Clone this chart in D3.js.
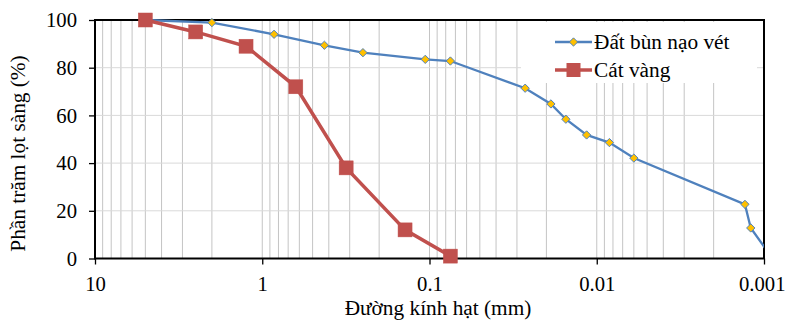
<!DOCTYPE html>
<html>
<head>
<meta charset="utf-8">
<script src="https://cdn.jsdelivr.net/npm/d3@7"></script>
<style>
  html, body { margin: 0; padding: 0; background: #fff; }
  svg { display: block; }
  svg text { font-family: "Times New Roman", Tinos, serif; }
</style>
</head>
<body>
<svg id="chart" width="786" height="323"></svg>
<script>
// Grain size distribution curves (percent passing vs particle diameter)
const seriesNames = ["Đất bùn nạo vét", "Cát vàng"];

// Dredged mud
const mudDiameter = [5, 2, 0.85, 0.425, 0.25, 0.106, 0.075, 0.0268, 0.0188, 0.0153, 0.0115, 0.0084, 0.006, 0.0013, 0.0012, 0.0009];
const mudPassing  = [100, 98.9, 94, 89.4, 86.3, 83.5, 82.8, 71.4, 64.8, 58.4, 51.8, 48.6, 42.1, 22.7, 12.8, 0.5];

// Yellow sand
const sandDiameter = [5, 2.5, 1.25, 0.63, 0.315, 0.14, 0.075];
const sandPassing  = [100, 95, 89, 72, 38, 12, 1];

const xTickValues = [10, 1, 0.1, 0.01, 0.001];
const xTickLabels = ["10", "1", "0.1", "0.01", "0.001"];
const yTickValues = [0, 20, 40, 60, 80, 100];

const xTitle = "Đường kính hạt (mm)";
const yTitle = "Phần trăm lọt sàng (%)";

const svg = d3.select("#chart");
const plot = { left: 95, right: 764, top: 20, bottom: 258.5 };
const tickFont = 20.7, textFont = 21.3;

const x = d3.scaleLog().domain([10, 0.001]).range([plot.left, plot.right]);
const y = d3.scaleLinear().domain([0, 100]).range([plot.bottom, plot.top]);

// minor vertical gridlines: 2..9 within each decade
const minorX = [];
[10, 1, 0.1, 0.01].forEach(dec => {
  for (let k = 2; k <= 9; k++) minorX.push(dec * k / 10);
});
svg.append("g").selectAll("line").data(minorX.concat([1, 0.1, 0.01])).join("line")
  .attr("x1", d => x(d)).attr("x2", d => x(d))
  .attr("y1", plot.top).attr("y2", plot.bottom)
  .attr("stroke", "#c4c4c4").attr("stroke-width", 1);

// horizontal gridlines
svg.append("g").selectAll("line").data([20, 40, 60, 80]).join("line")
  .attr("x1", plot.left).attr("x2", plot.right)
  .attr("y1", d => y(d)).attr("y2", d => y(d))
  .attr("stroke", "#d9d9d9").attr("stroke-width", 1);

// legend background
svg.append("rect").attr("x", 521).attr("y", 22).attr("width", 236).attr("height", 61).attr("fill", "#fff");

// axes
const xAxis = d3.axisBottom(x).tickValues(xTickValues)
  .tickFormat((d, i) => xTickLabels[i]).tickSize(6).tickSizeOuter(0);
const gx = svg.append("g").attr("transform", `translate(0,${plot.bottom})`).call(xAxis)
  .attr("font-family", null);
gx.select(".domain").remove();
gx.selectAll(".tick line").attr("stroke", "#000").attr("stroke-width", 1.3);
gx.selectAll(".tick text").attr("fill", "#000").attr("font-size", tickFont)
  .attr("y", 32.5).attr("dy", null);
// keep the last label inside the page edge
gx.selectAll(".tick text").filter((d, i, n) => i === n.length - 1)
  .attr("text-anchor", "end").attr("x", 21);

const yAxis = d3.axisLeft(y).tickValues(yTickValues).tickSize(6).tickPadding(12).tickSizeOuter(0);
const gy = svg.append("g").attr("transform", `translate(${plot.left},0)`).call(yAxis)
  .attr("font-family", null);
gy.select(".domain").remove();
gy.selectAll(".tick line").attr("stroke", "#000").attr("stroke-width", 1.3);
gy.selectAll(".tick text").attr("fill", "#000").attr("font-size", tickFont);

// plot frame
svg.append("rect").attr("x", plot.left).attr("y", plot.top)
  .attr("width", plot.right - plot.left).attr("height", plot.bottom - plot.top)
  .attr("fill", "none").attr("stroke", "#000").attr("stroke-width", 2);

// clip series horizontally at the plot edges
svg.append("clipPath").attr("id", "clipX").append("rect")
  .attr("x", 0).attr("y", 0).attr("width", plot.right).attr("height", 323);

const line = d3.line().x(d => x(d[0])).y(d => y(d[1]));
const mud = mudDiameter.map((d, i) => [d, mudPassing[i]]);
const sand = sandDiameter.map((d, i) => [d, sandPassing[i]]);

const series = svg.append("g").attr("clip-path", "url(#clipX)");

// mud curve
series.append("path").datum(mud).attr("d", line)
  .attr("fill", "none").attr("stroke", "#4f81bd").attr("stroke-width", 2.3);
const diamond = d3.symbol().type(d3.symbolDiamond2).size(44);
series.append("g").selectAll("path").data(mud).join("path")
  .attr("d", diamond)
  .attr("transform", d => `translate(${x(d[0])},${y(d[1])})`)
  .attr("fill", "#ffc000").attr("stroke", "#4f81bd").attr("stroke-width", 1);

// sand curve
series.append("path").datum(sand).attr("d", line)
  .attr("fill", "none").attr("stroke", "#c0504d").attr("stroke-width", 3.5);
series.append("g").selectAll("rect").data(sand).join("rect")
  .attr("x", d => x(d[0]) - 7).attr("y", d => y(d[1]) - 7)
  .attr("width", 14).attr("height", 14)
  .attr("fill", "#c0504d").attr("stroke", "#c0504d").attr("stroke-width", 0.5);

// legend
const lg = svg.append("g");
const legendRows = [
  { name: seriesNames[0], y: 42, color: "#4f81bd", w: 2.3 },
  { name: seriesNames[1], y: 70, color: "#c0504d", w: 3.5 }
];
legendRows.forEach((r, i) => {
  lg.append("line").attr("x1", 555).attr("x2", 592).attr("y1", r.y).attr("y2", r.y)
    .attr("stroke", r.color).attr("stroke-width", r.w);
  if (i === 0) {
    lg.append("path").attr("d", diamond).attr("transform", `translate(573.5,${r.y})`)
      .attr("fill", "#ffc000").attr("stroke", "#4f81bd").attr("stroke-width", 1);
  } else {
    lg.append("rect").attr("x", 566.5).attr("y", r.y - 7).attr("width", 14).attr("height", 14)
      .attr("fill", "#c0504d");
  }
  lg.append("text").attr("x", 594).attr("y", r.y).attr("dy", "0.33em")
    .attr("font-size", textFont).attr("fill", "#000").text(r.name);
});

// axis titles
svg.append("text").attr("x", 438).attr("y", 315)
  .attr("text-anchor", "middle").attr("font-size", textFont).attr("fill", "#000").text(xTitle);
svg.append("text").attr("transform", "translate(25,153.5) rotate(-90)")
  .attr("text-anchor", "middle").attr("font-size", textFont).attr("fill", "#000").text(yTitle);
</script>
</body>
</html>
